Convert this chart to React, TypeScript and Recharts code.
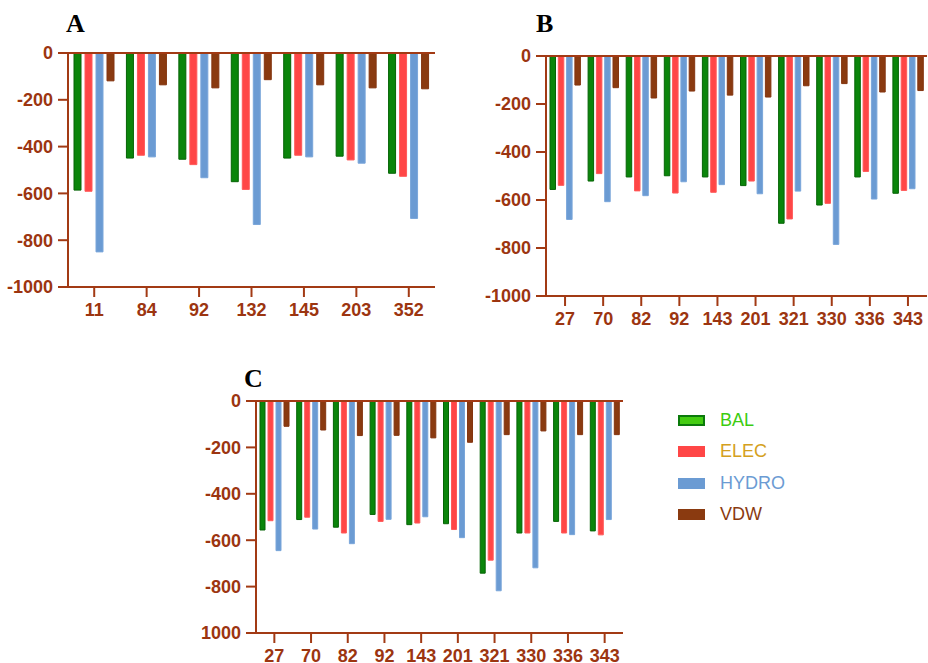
import React from "react";
import { BarChart, Bar, XAxis, YAxis, ReferenceLine } from "recharts";

// panel A
const categoriesA = ["11", "84", "92", "132", "145", "203", "352"];
const balA = [-586, -449, -454, -550, -449, -441, -514];
const elecA = [-591, -437, -477, -583, -437, -457, -527];
const hydroA = [-850, -444, -533, -733, -444, -471, -707];
const vdwA = [-119, -136, -149, -114, -136, -149, -153];

// panel B
const categoriesB = ["27", "70", "82", "92", "143", "201", "321", "330", "336", "343"];
const balB = [-556, -521, -504, -499, -504, -540, -697, -621, -504, -572];
const elecB = [-539, -490, -562, -571, -568, -521, -679, -614, -481, -560];
const hydroB = [-681, -607, -582, -524, -536, -574, -563, -785, -596, -553];
const vdwB = [-121, -132, -175, -146, -163, -171, -124, -115, -150, -144];

// panel C
const categoriesC = ["27", "70", "82", "92", "143", "201", "321", "330", "336", "343"];
const balC = [-556, -511, -544, -489, -533, -529, -742, -569, -519, -560];
const elecC = [-516, -501, -569, -519, -526, -554, -686, -569, -569, -577];
const hydroC = [-645, -552, -615, -510, -499, -589, -818, -719, -576, -511];
const vdwC = [-109, -125, -149, -148, -159, -178, -145, -129, -145, -145];

const yTicks = [0, -200, -400, -600, -800, -1000];
const yLabelsAB = ["0", "-200", "-400", "-600", "-800", "-1000"];
const yLabelsC = ["0", "-200", "-400", "-600", "-800", "1000"];

const seriesNames = ["BAL", "ELEC", "HYDRO", "VDW"];
const FILLS = ["#0b850b", "#ff4646", "#6b9bd3", "#8a3a10"];
const STROKES = ["#066406", "#ff5a5a", "#7aa6da", "#843510"];
const LEGEND_TEXT = ["#3ccc10", "#d4a020", "#6b9bd3", "#8a3a10"];

const AXIS = "#a23a14";
const LABEL = "#9c3510";

const buildRows = (cats: string[], s: number[][]) =>
  cats.map((c, i) => ({
    name: c,
    BAL: s[0][i],
    ELEC: s[1][i],
    HYDRO: s[2][i],
    VDW: s[3][i],
  }));

const dataA = buildRows(categoriesA, [balA, elecA, hydroA, vdwA]);
const dataB = buildRows(categoriesB, [balB, elecB, hydroB, vdwB]);
const dataC = buildRows(categoriesC, [balC, elecC, hydroC, vdwC]);

const tickStyle = {
  fill: LABEL,
  fontSize: 18,
  fontWeight: 700,
  fontFamily: "Liberation Sans, Arial, sans-serif",
};

type PanelProps = {
  data: any[];
  left: number;
  top: number;
  width: number;
  height: number;
  margin: { top: number; right: number; bottom: number; left: number };
  barSize: number;
  barGap: number;
  yLabels: string[];
  letter: string;
  letterX: number;
  letterY: number;
};

const Panel: React.FC<PanelProps> = (p) => (
  <>
    <div
      style={{
        position: "absolute",
        left: p.letterX,
        top: p.letterY,
        fontFamily: "Liberation Serif, Times New Roman, serif",
        fontWeight: 700,
        fontSize: 26,
        lineHeight: "26px",
        color: "#000",
      }}
    >
      {p.letter}
    </div>
    <div style={{ position: "absolute", left: p.left, top: p.top }}>
      <BarChart
        width={p.width}
        height={p.height}
        data={p.data}
        margin={p.margin}
        barSize={p.barSize}
        barGap={p.barGap}
      >
        <XAxis
          dataKey="name"
          axisLine={{ stroke: AXIS, strokeWidth: 2 }}
          tickLine={{ stroke: AXIS, strokeWidth: 2 }}
          tickSize={10}
          tickMargin={6}
          height={30}
          interval={0}
          tick={tickStyle}
        />
        <YAxis
          domain={[-1000, 0]}
          ticks={yTicks}
          width={60}
          axisLine={{ stroke: AXIS, strokeWidth: 2 }}
          tickLine={{ stroke: AXIS, strokeWidth: 2 }}
          tickSize={10}
          tickMargin={5}
          tick={tickStyle}
          tickFormatter={(v: number) => p.yLabels[yTicks.indexOf(v)]}
        />
        {seriesNames.map((s, i) => (
          <Bar
            key={s}
            dataKey={s}
            fill={FILLS[i]}
            stroke={STROKES[i]}
            strokeWidth={1}
            isAnimationActive={false}
          />
        ))}
        <ReferenceLine y={0} stroke={AXIS} strokeWidth={2} />
      </BarChart>
    </div>
  </>
);

export default function App() {
  return (
    <div
      style={{
        position: "absolute",
        left: 0,
        top: 0,
        width: 928,
        height: 663,
        background: "#fff",
        overflow: "hidden",
      }}
    >
      <Panel
        data={dataA}
        left={0}
        top={0}
        width={460}
        height={330}
        margin={{ top: 53, right: 25, bottom: 13, left: 8 }}
        barSize={7}
        barGap={4}
        yLabels={yLabelsAB}
        letter="A"
        letterX={66}
        letterY={11}
      />
      <Panel
        data={dataB}
        left={460}
        top={0}
        width={468}
        height={330}
        margin={{ top: 56, right: 1, bottom: 4, left: 26 }}
        barSize={5.5}
        barGap={2.8}
        yLabels={yLabelsAB}
        letter="B"
        letterX={536}
        letterY={11}
      />
      <Panel
        data={dataC}
        left={190}
        top={360}
        width={450}
        height={303}
        margin={{ top: 41, right: 17, bottom: 0, left: 6 }}
        barSize={5}
        barGap={3}
        yLabels={yLabelsC}
        letter="C"
        letterX={244}
        letterY={366}
      />
      <div style={{ position: "absolute", left: 678, top: 405 }}>
        {seriesNames.map((s, i) => (
          <div
            key={s}
            style={{ display: "flex", alignItems: "center", height: 31.3 }}
          >
            <div
              style={{
                width: 27,
                height: 11,
                boxSizing: "border-box",
                background: i === 0 ? "#44cc11" : FILLS[i],
                border: i === 0 ? "2px solid #0b7a0b" : "none",
              }}
            />
            <span
              style={{
                marginLeft: 15,
                fontFamily: "Liberation Sans, Arial, sans-serif",
                fontSize: 18,
                color: LEGEND_TEXT[i],
              }}
            >
              {s}
            </span>
          </div>
        ))}
      </div>
    </div>
  );
}
